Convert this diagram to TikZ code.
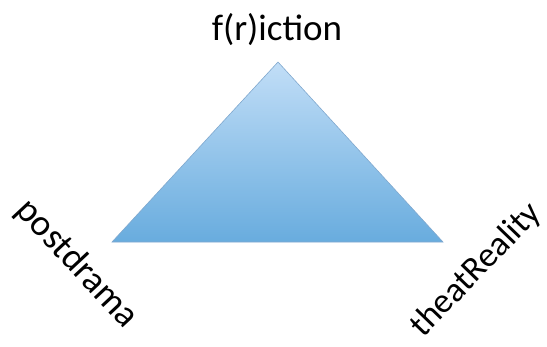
\documentclass[tikz,border=0pt]{standalone}
\usepackage{fontspec}
\setmainfont{Carlito}
\usepackage{tikz}
\definecolor{tritop}{RGB}{194,222,247}
\definecolor{tribot}{RGB}{104,172,222}
\definecolor{triline}{RGB}{128,168,206}

\begin{document}
\begin{tikzpicture}[x=1pt,y=-1pt]
                \useasboundingbox (0,0) rectangle (547,346);
                \coordinate (T) at (278,62);
                \coordinate (L) at (112,242);
                \coordinate (R) at (443,242);
                \shade[top color=tritop, bottom color=tribot, draw=triline, line width=0.6pt] (T) -- (R) -- (L) -- cycle;
                \begin{scope}[every node/.style={font=\fontsize{37}{40}\selectfont, inner sep=0}]
                        \node (F) at (277,30) {f(r)iction};
                        \node[rotate=-47] (P) at (77,264) {postdrama};
                        \node[rotate=46, font=\fontsize{35}{38}\selectfont] (Q) at (476,270) {theatReality};
                \end{scope}
        \end{tikzpicture}
\end{document}
